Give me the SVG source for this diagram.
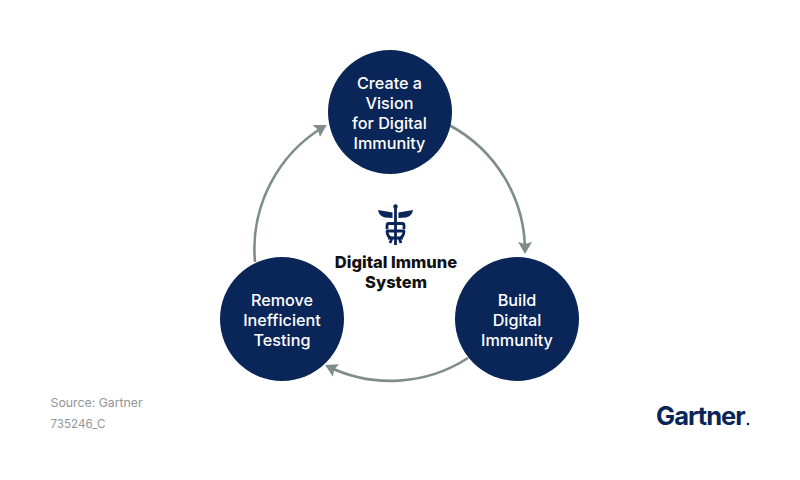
<svg xmlns="http://www.w3.org/2000/svg" width="800" height="480" viewBox="0 0 800 480">
<style>
.n{fill:#0a2558}
.l{font-family:Inter,"Liberation Sans",sans-serif;font-size:16.200px;font-weight:500;fill:#fff;text-anchor:middle}
.c{fill:none;stroke:#7f8c8c;stroke-width:2.600;marker-end:url(#a)}
.t{font-family:Inter,"Liberation Sans",sans-serif;font-size:16.500px;font-weight:800;fill:#111;text-anchor:middle}
.s{font-family:Inter,"Liberation Sans",sans-serif;font-size:12.300px;fill:#8f9599}
.i{fill:none;stroke:#0a2558;stroke-width:2.800}
</style>
<defs><marker id="a" markerUnits="userSpaceOnUse" markerWidth="16" markerHeight="16" refX="10" refY="7" orient="auto"><path d="M0 0L12 7L0 14L2 7Z" fill="#7f8c8c"/></marker></defs>
<rect width="800" height="480" fill="#fff"/>
<g id="connectors">
<path class="c" d="M449 125A143 143 0 0 1 525 252"/>
<path class="c" d="M468 358A143 143 0 0 1 327 366"/>
<path class="c" d="M255 262A143 143 0 0 1 325 126"/>
</g>
<g id="node-vision"><circle class="n" cx="390" cy="112" r="62"/>
<text class="l" x="389.500" y="88.500">Create a</text><text class="l" x="389.500" y="108.500">Vision</text><text class="l" x="389.500" y="128.500">for Digital</text><text class="l" x="389.500" y="148.500">Immunity</text></g>
<g id="node-build"><circle class="n" cx="517" cy="319" r="62"/>
<text class="l" x="517" y="305.500">Build</text><text class="l" x="517" y="325.500">Digital</text><text class="l" x="517" y="345.500">Immunity</text></g>
<g id="node-remove"><circle class="n" cx="282" cy="319" r="62"/>
<text class="l" x="282" y="305.500">Remove</text><text class="l" x="282" y="325.500">Inefficient</text><text class="l" x="282" y="345.500">Testing</text></g>
<g id="center">
<circle class="n" cx="395.500" cy="206.500" r="2.200"/>
<path class="i" d="M395.500 208V245"/>
<path class="n" d="M378 210L392.500 212.500V218L385 217.500Q379 216 378 210ZM413 210L398.500 212.500V218L406 217.500Q412 216 413 210Z"/>
<path class="i" d="M387 229V225.500Q387 223.500 389 223.500H402Q404 223.500 404 225.500V229M386 231H405M387 231Q387 237 392 238L390 243M404 231Q404 237 399 238L401 243M388 238H403"/>
<text class="t" x="396" y="268">Digital Immune</text><text class="t" x="396" y="288">System</text>
</g>
<g id="source"><text class="s" x="50.500" y="407">Source: Gartner</text><text class="s" x="50.500" y="428" font-size="11.500" style="font-size:11.600px">735246_C</text></g>
<g id="logo"><text x="656" y="425" font-family="Inter,'Liberation Sans',sans-serif" font-size="25.500" font-weight="700" letter-spacing="-1" fill="#0a2558">Gartner</text><circle class="n" cx="748" cy="424" r="1.300"/></g>
</svg>
